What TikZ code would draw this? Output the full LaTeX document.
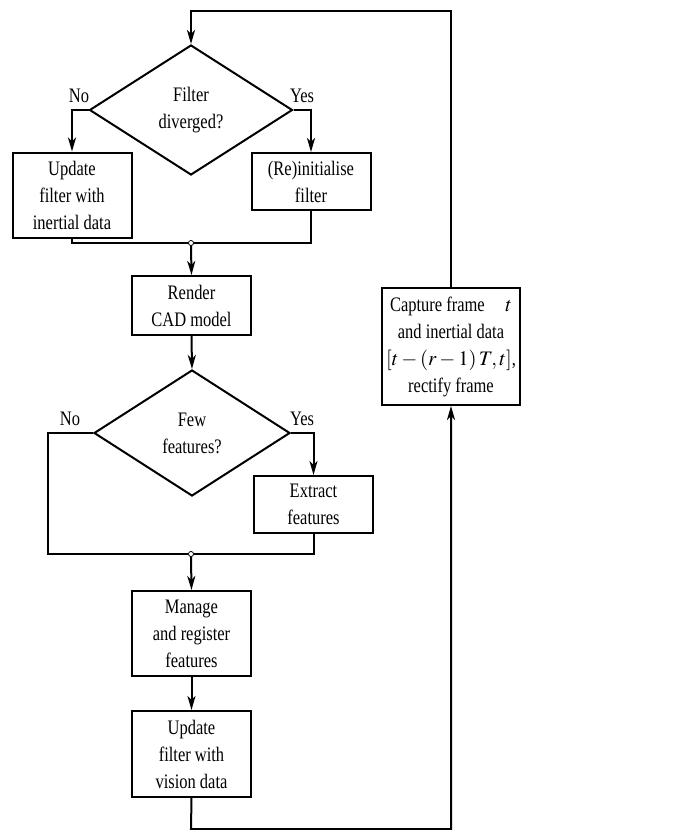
\documentclass[tikz,border=0pt]{standalone}
\usepackage{mathptmx}
\usepackage{fontspec}
\setmainfont{Liberation Serif}[FakeStretch=0.8]
\usetikzlibrary{shapes.geometric,arrows.meta}

\begin{document}
\begin{tikzpicture}[x=0.5pt, y=-0.5pt,
  every node/.style={font=\fontsize{10.3}{13.5}\selectfont},
  bloc/.style={draw, line width=1pt, align=center, minimum width=59.5pt, inner sep=2pt},
  test/.style={draw, diamond, line width=1pt, align=center, inner sep=0pt},
  jonction/.style={circle, draw, fill=white, line width=0.4pt, inner sep=0.9pt},
  trait/.style={line width=1pt},
  fleche/.style={line width=1pt, -{Stealth[length=7pt, width=4pt, inset=2pt]}}]
  \useasboundingbox (0,0) rectangle (673,830);

  % Les tests
  \node[test, minimum width=101.5pt, minimum height=65pt] (diverge) at (191,110) {Filter\\diverged?};
  \node[test, minimum width=98pt, minimum height=63pt] (peu) at (192,433) {Few\\features?};

  % Les blocs
  \node[bloc, minimum height=42.5pt] (majinert) at (72,195) {Update\\filter with\\inertial data};
  \node[bloc, minimum height=28.5pt] (init) at (311,181.5) {(Re)initialise\\filter};
  \node[bloc, minimum height=29.5pt] (rendu) at (191.5,305.5) {Render\\CAD model};
  \node[bloc, minimum height=28.5pt] (extract) at (313.5,504.5) {Extract\\features};
  \node[bloc, minimum height=42.5pt] (gerer) at (191.5,633.5) {Manage\\and register\\features};
  \node[bloc, minimum height=43pt] (majvision) at (191.5,754) {Update\\filter with\\vision data};
  \node[bloc, minimum width=69pt, minimum height=58.5pt] (capture) at (451,346.5)
    {Capture frame\quad$t$\\and inertial data\\$[t-(r-1)\,T,t]$,\\rectify frame};

  % Les jonctions et les coins
  \node[jonction] (j1) at (191,243) {};
  \node[jonction] (j2) at (191,554) {};
  \coordinate (coin) at (48,554);
  \coordinate (bas) at (191,829);
  \coordinate (haut) at (191,11);

  % Les etiquettes des branches
  \foreach \x/\y/\n in {79/96/No, 302/96/Yes, 70/419/No, 302/419/Yes} {
    \node at (\x,\y) {\n};
  }

  % Les liaisons
  \draw[fleche] (diverge.west) -| (majinert.north);
  \draw[fleche] (diverge.east) -| (init.north);
  \draw[trait] (majinert.south) |- (j1.west);
  \draw[trait] (init.south) |- (j1.east);
  \draw[fleche] (j1.south) -- (rendu.north);
  \draw[fleche] (rendu.south) -- (peu.north);
  \draw[trait] (peu.west) -| (coin) -- (j2.west);
  \draw[fleche] (peu.east) -| (extract.north);
  \draw[trait] (extract.south) |- (j2.east);
  \draw[fleche] (j2.south) -- (gerer.north);
  \draw[fleche] (gerer.south) -- (majvision.north);
  \draw[fleche] (majvision.south) -- (bas) -| (capture.south);
  \draw[fleche] (capture.north) |- (haut) -- (diverge.north);
\end{tikzpicture}
\end{document}
